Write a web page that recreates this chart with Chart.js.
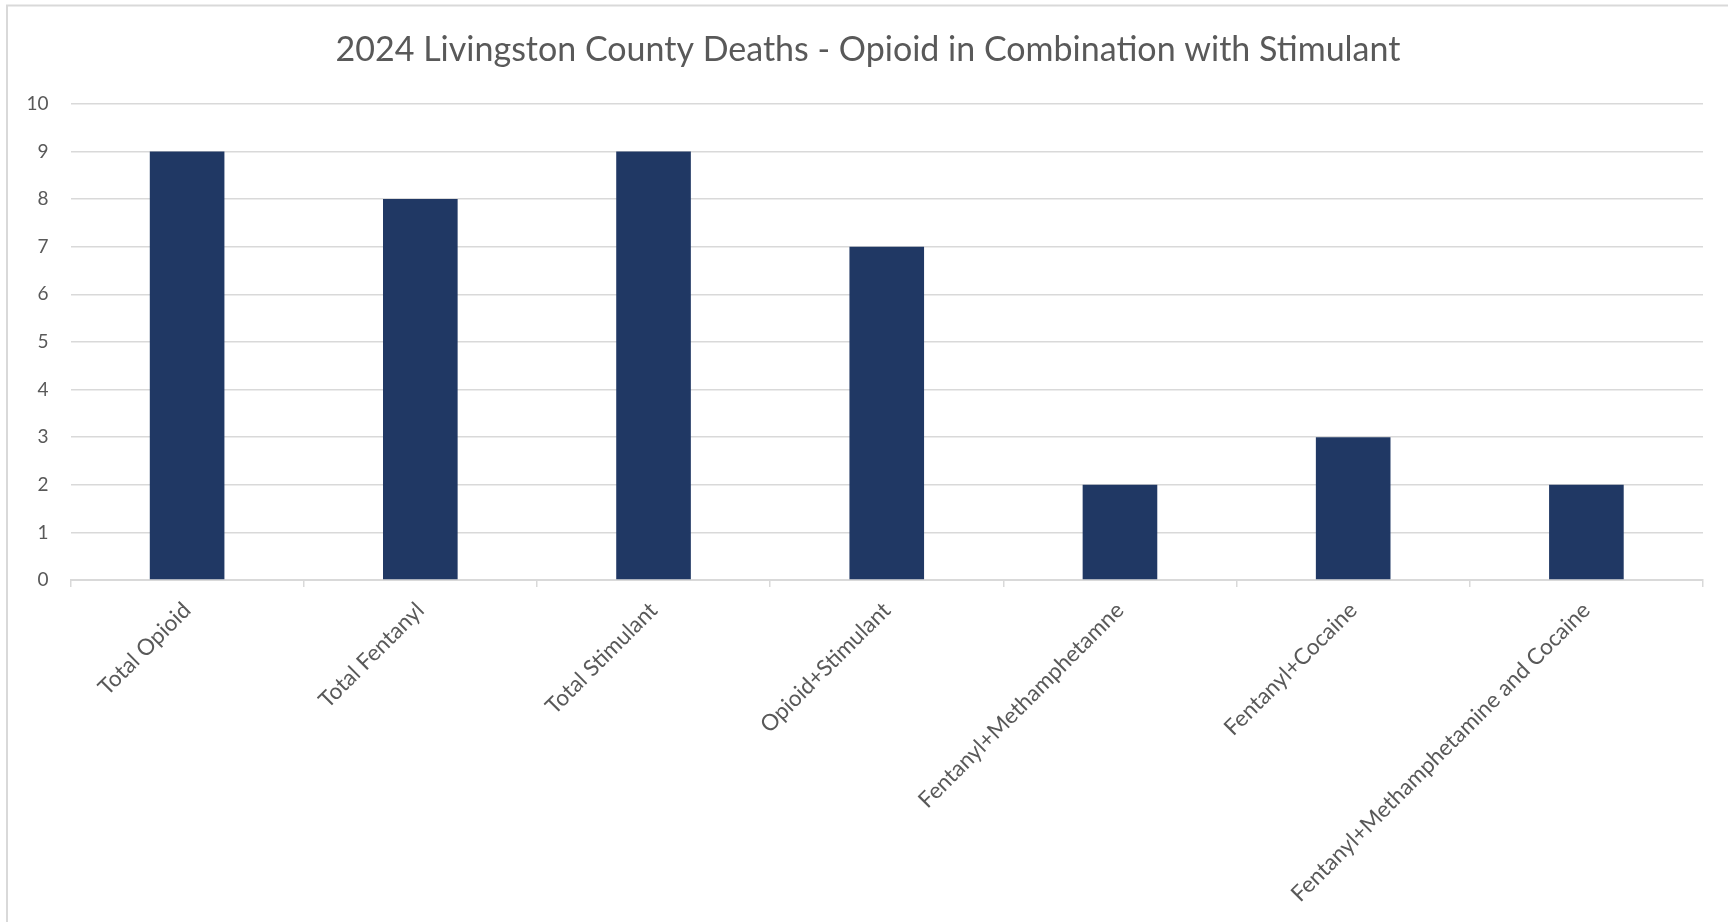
<!DOCTYPE html>
<html>
<head>
<meta charset="utf-8">
<title>2024 Livingston County Deaths - Opioid in Combination with Stimulant</title>
<script src="https://cdn.jsdelivr.net/npm/chart.js@4"></script>
<style>
  html, body { margin: 0; padding: 0; background: #ffffff; overflow: hidden; }
  #wrap { position: relative; width: 1728px; height: 922px; }
  canvas { display: block; }
</style>
</head>
<body>
<div id="wrap"><canvas id="chart" width="1728" height="922"></canvas></div>
<script>
// Categories and counts
const categories = [
  "Total Opioid",
  "Total Fentanyl",
  "Total Stimulant",
  "Opioid+Stimulant",
  "Fentanyl+Methamphetamne",
  "Fentanyl+Cocaine",
  "Fentanyl+Methamphetamine and Cocaine"
];
const deaths = [9, 8, 9, 7, 2, 3, 2];
const yTicks = [0, 1, 2, 3, 4, 5, 6, 7, 8, 9, 10];

const FONT = "Lato, 'Open Sans', 'Noto Sans', sans-serif";
const TEXT = "#595959";
const GRID = "#d9d9d9";

// Light frame around the chart (top and left edges fall inside the view)
const framePlugin = {
  id: "frame",
  afterDraw(chart) {
    const ctx = chart.ctx;
    ctx.save();
    ctx.strokeStyle = GRID;
    ctx.lineWidth = 2;
    ctx.beginPath();
    ctx.moveTo(7, chart.height + 5);
    ctx.lineTo(7, 5.5);
    ctx.lineTo(chart.width + 5, 5.5);
    ctx.stroke();
    ctx.restore();
  }
};

new Chart(document.getElementById("chart"), {
  type: "bar",
  data: {
    labels: categories,
    datasets: [{
      label: "Deaths",
      data: deaths,
      backgroundColor: "#203864",
      borderWidth: 0,
      barPercentage: 0.32,
      categoryPercentage: 1.0
    }]
  },
  options: {
    responsive: false,
    animation: false,
    devicePixelRatio: 1,
    layout: { padding: { left: 8, right: 0, top: 0, bottom: 0 } },
    plugins: {
      legend: { display: false },
      tooltip: { enabled: false },
      title: {
        display: true,
        text: "2024 Livingston County Deaths - Opioid in Combination with Stimulant",
        color: TEXT,
        font: { family: FONT, size: 34, weight: "normal" },
        padding: { top: 30, bottom: 33 }
      }
    },
    scales: {
      x: {
        offset: true,
        grid: {
          offset: true,
          drawOnChartArea: false,
          drawTicks: true,
          tickLength: 7,
          color: GRID,
          lineWidth: 1.5
        },
        border: { display: true, color: GRID, width: 2 },
        ticks: {
          color: TEXT,
          font: { family: FONT, size: 22.5 },
          minRotation: 45,
          maxRotation: 45,
          autoSkip: false,
          padding: 10
        },
        afterFit(scale) { scale.height = 922 - 580; }
      },
      y: {
        min: 0,
        max: 10,
        afterBuildTicks(scale) { scale.ticks = yTicks.map(v => ({ value: v })); },
        grid: {
          drawTicks: false,
          color: GRID,
          lineWidth: 1.5
        },
        border: { display: false },
        ticks: {
          color: TEXT,
          font: { family: FONT, size: 19 },
          padding: 22
        },
        afterFit(scale) { scale.width = 62.5; }
      },
      // empty margin strip on the right of the plot
      yRight: {
        type: "linear",
        position: "right",
        grid: { display: false },
        border: { display: false },
        ticks: { display: false },
        afterFit(scale) { scale.width = 25; }
      }
    }
  },
  plugins: [framePlugin]
});
</script>
</body>
</html>
